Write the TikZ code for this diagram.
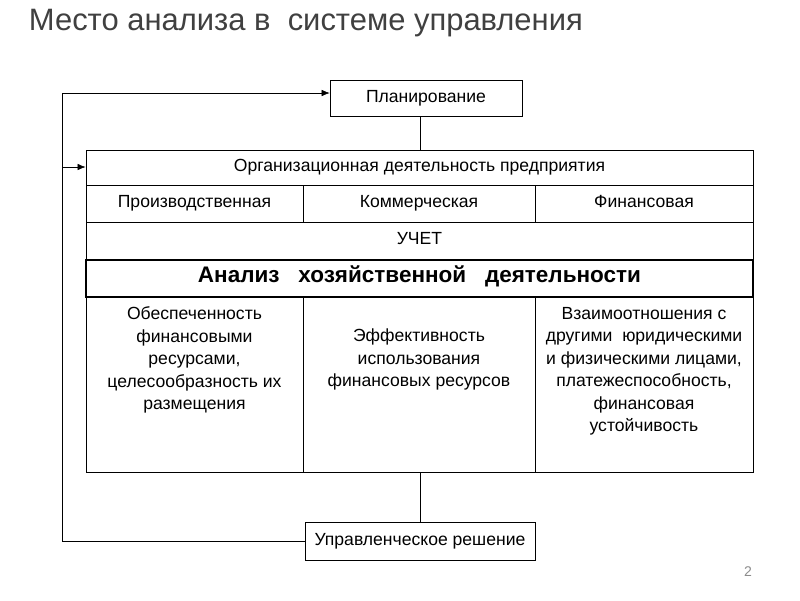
\documentclass[tikz,border=0pt]{standalone}
\usepackage{fontspec}
\setmainfont{Liberation Sans}
\usetikzlibrary{arrows.meta}
\tikzset{
  cell/.style={draw, thin, minimum height=0.925cm, align=center, inner sep=0pt, text height=1.6ex, text depth=0.4ex, font=\fontsize{12.5}{15}\selectfont},
  box/.style={draw, thin, align=center, inner sep=0pt, font=\fontsize{12.5}{15}\selectfont},
  txt/.style={align=center, font=\fontsize{12.5}{16}\selectfont},
  link/.style={draw, thin},
  fb/.style={draw, thin, -{Latex[length=2mm,width=1.6mm]}}
}
\begin{document}
\begin{tikzpicture}[x=0.025cm,y=-0.025cm]
\useasboundingbox (0,0) rectangle (800,600);

\node [anchor=west, text=black!75, font=\fontsize{22}{26}\selectfont] (title) at (24,23) {Место анализа в\ \ системе управления};

\node [box, minimum width=4.8cm, minimum height=0.9cm] (plan) at (426,98) {Планирование};
\node [box, minimum width=5.75cm, minimum height=0.95cm] (dec) at (420,541) {Управленческое решение};

% table
\node [cell, minimum width=16.675cm, minimum height=0.875cm] (org) at (419.5,167.5) {Организационная деятельность предприятия};
\node [cell, minimum width=5.425cm] (prod) at (194.5,203.5) {Производственная};
\node [cell, minimum width=5.8cm] (comm) at (419,203.5) {Коммерческая};
\node [cell, minimum width=5.45cm] (fin) at (644,203.5) {Финансовая};
\draw [thin] (86,222) rectangle (753,260);
\node [txt] (uch) at (419.5,239) {УЧЕТ};
\node [cell, line width=0.9pt, minimum width=16.675cm, font=\fontsize{16}{18}\selectfont\bfseries] (an) at (419.5,278.5) {Анализ\ \ \ хозяйственной\ \ \ деятельности};
\draw [thin] (86,297) rectangle (753,472);
\draw [thin] (303,297) -- (303,472);
\draw [thin] (535,297) -- (535,472);
\node [txt, anchor=north] (c1) at (194.5,302) {Обеспеченность\\финансовыми\\ресурсами,\\целесообразность их\\размещения};
\node [txt, anchor=north] (c2) at (419,324) {Эффективность\\использования\\финансовых ресурсов};
\node [txt, anchor=north] (c3) at (644,302) {Взаимоотношения с\\другими\ \ юридическими\\и физическими лицами,\\платежеспособность,\\финансовая\\устойчивость};

\coordinate (tb) at (420,472);
\draw [link] (plan.south -| tb) -- (org.north -| tb);
\draw [link] (tb) -- (dec.north -| tb);

% feedback
\coordinate (fl) at (62,541);
\coordinate (fu) at (62,93);
\coordinate (fm) at (62,167);
\draw [link] (dec.west) -- (fl) -- (fu);
\draw [fb] (fu) -- (plan.west |- fu);
\draw [fb] (fm) -- (org.west |- fm);

\node [text=black!45, font=\fontsize{10}{11}\selectfont] (pg) at (748,572) {2};
\end{tikzpicture}
\end{document}
